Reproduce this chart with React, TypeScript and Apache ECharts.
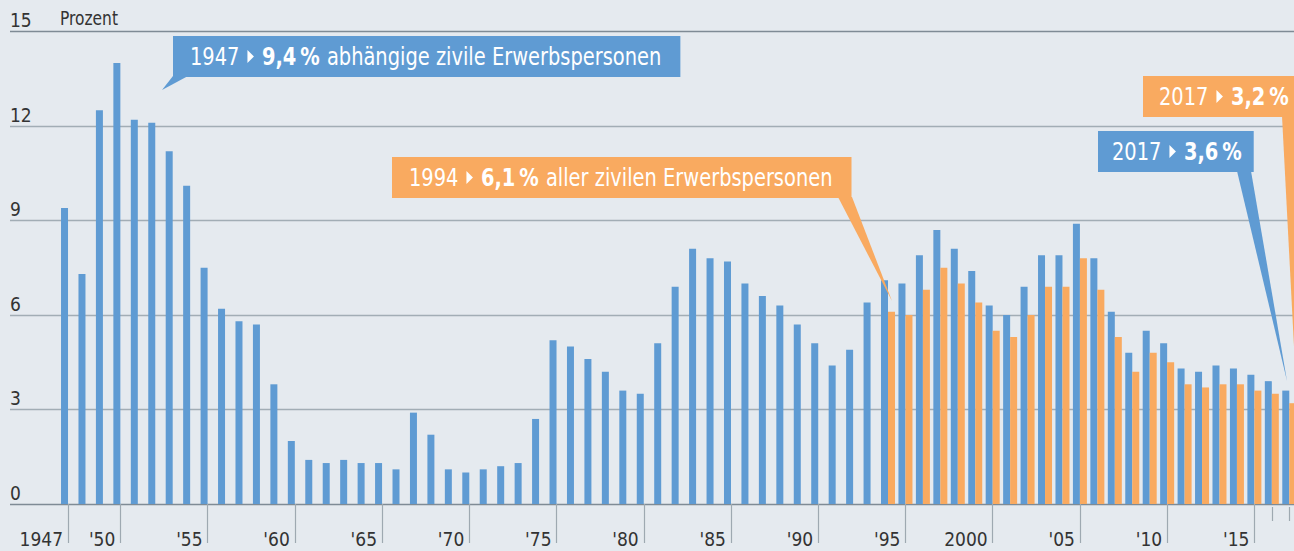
import React, { useEffect, useRef } from "react";
import * as echarts from "echarts";

const years = [
  "1947","1948","1949","1950","1951","1952","1953","1954","1955","1956",
  "1957","1958","1959","1960","1961","1962","1963","1964","1965","1966",
  "1967","1968","1969","1970","1971","1972","1973","1974","1975","1976",
  "1977","1978","1979","1980","1981","1982","1983","1984","1985","1986",
  "1987","1988","1989","1990","1991","1992","1993","1994","1995","1996",
  "1997","1998","1999","2000","2001","2002","2003","2004","2005","2006",
  "2007","2008","2009","2010","2011","2012","2013","2014","2015","2016",
  "2017",
];

// abhängige zivile Erwerbspersonen (1947–2017)
const dependentRate = [
  9.4, 7.3, 12.5, 14.0, 12.2, 12.1, 11.2, 10.1, 7.5, 6.2,
  5.8, 5.7, 3.8, 2.0, 1.4, 1.3, 1.4, 1.3, 1.3, 1.1,
  2.9, 2.2, 1.1, 1.0, 1.1, 1.2, 1.3, 2.7, 5.2, 5.0,
  4.6, 4.2, 3.6, 3.5, 5.1, 6.9, 8.1, 7.8, 7.7, 7.0,
  6.6, 6.3, 5.7, 5.1, 4.4, 4.9, 6.4, 7.1, 7.0, 7.9,
  8.7, 8.1, 7.4, 6.3, 6.0, 6.9, 7.9, 7.9, 8.9, 7.8,
  6.1, 4.8, 5.5, 5.1, 4.3, 4.2, 4.4, 4.3, 4.1, 3.9,
  3.6,
];

// aller zivilen Erwerbspersonen (1994–2017)
const allCivilStartYear = "1994";
const allCivilRate = [
  6.1, 6.0, 6.8, 7.5, 7.0, 6.4, 5.5, 5.3, 6.0, 6.9,
  6.9, 7.8, 6.8, 5.3, 4.2, 4.8, 4.5, 3.8, 3.7, 3.8,
  3.8, 3.6, 3.5, 3.2,
];

const labelYears = ["1947","1950","1955","1960","1965","1970","1975","1980","1985","1990","1995","2000","2005","2010","2015"];
const labelTexts = ["1947","'50","'55","'60","'65","'70","'75","'80","'85","'90","'95","2000","'05","'10","'15"];
const minorTickYears = ["2016", "2017"];

const yMin = 0;
const yMax = 15;
const yStep = 3;

const BG = "#e5eaef";
const BLUE = "#5f9bd3";
const ORANGE = "#f9aa60";
const GRID = "#a2adb5";
const GRID_DARK = "#7f8b95";
const TICK = "#9ea9b1";
const TEXT = "#333333";
const FONT = "'Liberation Sans Narrow', 'Arial Narrow', 'DejaVu Sans Condensed', 'Roboto', sans-serif";
const SX = 0.9; // horizontal condensing of callout texts

function measure(text: string, size: number, weight: string) {
  const c = document.createElement("canvas").getContext("2d")!;
  c.font = `${weight} ${size}px ${FONT}`;
  return c.measureText(text).width;
}

function callout(
  color: string,
  boxX: number,
  boxY: number,
  boxH: number,
  padL: number,
  padR: number,
  pointer: number[][],
  lead: string,
  bold: string,
  rest: string
) {
  const size = 24;
  const midY = boxY + boxH / 2;
  const els: any[] = [];
  const textEls: any[] = [];
  const mk = (text: string, x: number, weight: string) => ({
    type: "text", z: 101, x, y: midY, scaleX: SX,
    style: { text, fill: "#fff", font: `${weight} ${size}px ${FONT}`, align: "left", verticalAlign: "middle" },
  });
  let x = boxX + padL;
  textEls.push(mk(lead, x, "normal"));
  x += measure(lead, size, "normal") * SX + 8;
  const triX = x;
  x += 6.5 + 8;
  textEls.push(mk(bold, x, "bold"));
  x += measure(bold, size, "bold") * SX;
  if (rest) {
    x += measure(" ", size, "normal") * SX + 1;
    textEls.push(mk(rest, x, "normal"));
    x += measure(rest, size, "normal") * SX;
  }
  const boxW = x + padR - boxX;
  els.push({ type: "polygon", z: 100, shape: { points: pointer }, style: { fill: color } });
  els.push({ type: "rect", z: 100, shape: { x: boxX, y: boxY, width: boxW, height: boxH }, style: { fill: color } });
  els.push({
    type: "polygon", z: 101,
    shape: { points: [[triX, midY - 6.5], [triX + 6.5, midY], [triX, midY + 6.5]] },
    style: { fill: "#fff" },
  });
  return els.concat(textEls);
}

export default function App() {
  const ref = useRef<HTMLDivElement>(null);

  useEffect(() => {
    document.body.style.margin = "0";
    const chart = echarts.init(ref.current!, null, { renderer: "svg" });
    const startIdx = years.indexOf(allCivilStartYear);
    const allCivilSeries = years.map((_, i) =>
      i >= startIdx ? allCivilRate[i - startIdx] : null
    );

    const gridColors = [GRID_DARK, GRID, GRID, GRID, GRID, GRID_DARK];

    const graphicEls = [
      ...callout(BLUE, 173, 36, 41, 17, 19, [[173, 76], [188, 76], [162, 90]],
        "1947", "9,4\u2009%", "abhängige zivile Erwerbspersonen"),
      ...callout(ORANGE, 392, 157, 41, 17, 19, [[838, 197], [852, 197], [892, 301]],
        "1994", "6,1\u2009%", "aller zivilen Erwerbspersonen"),
      ...callout(ORANGE, 1143, 76, 41, 16, 40, [[1282, 116], [1312, 116], [1296, 385]],
        "2017", "3,2\u2009%", ""),
      ...callout(BLUE, 1098, 131, 41, 14, 12, [[1237, 171], [1251, 171], [1287, 381]],
        "2017", "3,6\u2009%", ""),
      {
        type: "text", z: 50, x: 60, y: 28, scaleX: 0.86,
        style: { text: "Prozent", fill: TEXT, font: `normal 20px ${FONT}`, align: "left", verticalAlign: "bottom" },
      },
    ];

    chart.setOption({
      animation: false,
      backgroundColor: BG,
      grid: [
        { left: 10, right: 0, top: 31.5, bottom: 47 },
        { left: 59.3, right: 2, top: 31.5, bottom: 47 },
      ],
      xAxis: [
        { gridIndex: 0, type: "value", min: 0, max: 1, show: false },
        {
          gridIndex: 1,
          type: "category",
          data: years,
          position: "bottom",
          offset: 3,
          axisLine: { show: false },
          axisTick: {
            show: true,
            alignWithLabel: true,
            interval: (_i: number, v: string) => labelYears.indexOf(v) >= 0,
            length: 39,
            lineStyle: { color: TICK, width: 1.2 },
          },
          axisLabel: {
            interval: (_i: number, v: string) => labelYears.indexOf(v) >= 0,
            formatter: (v: string) => {
              const k = labelYears.indexOf(v);
              return k >= 0 ? labelTexts[k] : "";
            },
            align: "right",
            padding: [0, 5, 0, 0],
            margin: 22,
            fontSize: 19,
            fontFamily: FONT,
            color: TEXT,
          },
          splitLine: { show: false },
        },
        {
          gridIndex: 1,
          type: "category",
          data: years,
          position: "bottom",
          offset: 3,
          axisLine: { show: false },
          axisTick: {
            show: true,
            alignWithLabel: true,
            interval: (_i: number, v: string) => minorTickYears.indexOf(v) >= 0,
            length: 14,
            lineStyle: { color: TICK, width: 1.2 },
          },
          axisLabel: { show: false },
          splitLine: { show: false },
        },
      ],
      yAxis: [
        {
          gridIndex: 0,
          type: "value",
          min: yMin,
          max: yMax,
          interval: yStep,
          axisLine: { show: false },
          axisTick: { show: false },
          axisLabel: {
            inside: true,
            margin: 0,
            align: "left",
            verticalAlign: "bottom",
            padding: [0, 0, 2, 0],
            fontSize: 19,
            fontFamily: FONT,
            color: TEXT,
          },
          splitLine: { show: true, lineStyle: { color: gridColors, width: 1.3 } },
        },
        { gridIndex: 1, type: "value", min: yMin, max: yMax, interval: yStep, show: false },
      ],
      series: [
        {
          name: "abhängige zivile Erwerbspersonen",
          type: "bar",
          xAxisIndex: 1,
          yAxisIndex: 1,
          data: dependentRate,
          barWidth: 7,
          barGap: "0%",
          itemStyle: { color: BLUE },
        },
        {
          name: "alle zivilen Erwerbspersonen",
          type: "bar",
          xAxisIndex: 1,
          yAxisIndex: 1,
          data: allCivilSeries,
          barWidth: 7,
          barGap: "0%",
          itemStyle: { color: ORANGE },
        },
      ],
      graphic: { elements: graphicEls },
    });

    return () => chart.dispose();
  }, []);

  return (
    <div
      style={{
        position: "fixed",
        left: 0,
        top: 0,
        width: 1294,
        height: 551,
        overflow: "hidden",
        background: BG,
      }}
    >
      <div ref={ref} style={{ width: 1300, height: 551 }} />
    </div>
  );
}
